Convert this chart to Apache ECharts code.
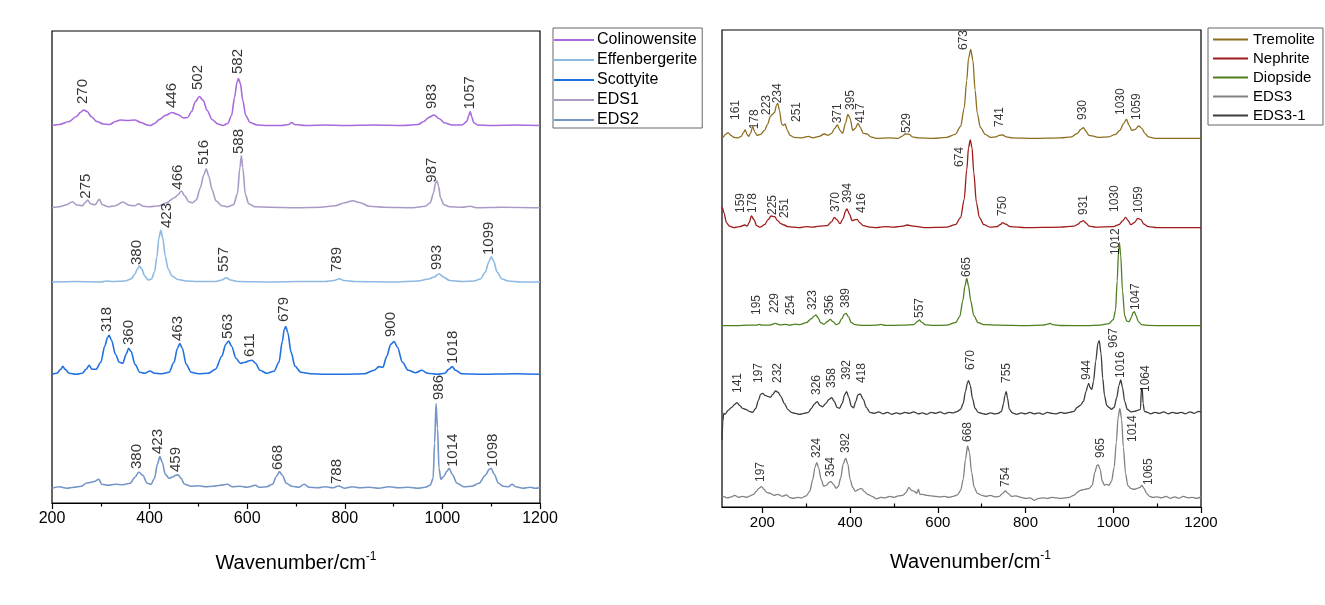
<!DOCTYPE html>
<html><head><meta charset="utf-8">
<script src="https://cdn.jsdelivr.net/npm/echarts@6/dist/echarts.min.js"></script>
<style>html,body{margin:0;padding:0;background:#fff}#c{width:1325px;height:605px}</style>
</head><body><div id="c"></div><script>
// ---------- LEFT PANEL DATA: [wavenumber, intensity above own baseline] ----------
const colinowensite = [[200,0],[215,1],[235,4],[250,9],[258,13],[265,15.5],[272,14],[280,9],[292,4],[305,1.5],[318,1],[330,4],[340,5.5],[355,5],[370,5.5],[382,3],[395,0.5],[402,0],[410,2],[420,6],[432,10],[446,13],[458,11],[470,7.5],[478,8],[486,14],[494,24],[502,29],[510,25],[518,15],[528,6],[540,1.5],[550,0],[560,2],[568,10],[574,28],[579,43],[582,47],[586,42],[591,25],[597,10],[606,3],[620,0.5],[640,0],[670,0],[685,1],[691,3],[697,1],[720,0],[760,0.5],[800,0],[860,0.5],[920,0],[950,1],[962,4],[972,8],[983,10.5],[993,7],[1005,2.5],[1020,0.5],[1040,0.5],[1050,4],[1054,10],[1057,14],[1060,9],[1064,3],[1072,0.5],[1100,0],[1150,0.5],[1200,0]];
const eds1 = [[200,0],[215,1],[230,3],[242,6],[250,3],[262,2],[268,5],[273,7.7],[279,4],[288,3],[297,8.3],[303,3],[315,1],[330,2],[345,5.7],[358,2.5],[370,2],[378,4],[386,1.5],[400,1],[420,2],[435,5],[451,10],[458,13],[465,16.7],[472,12],[480,6],[488,5],[496,8],[504,20],[511,33],[516,39],[521,32],[528,18],[536,7],[548,2],[560,1],[572,3],[580,14],[585,40],[588,52],[591,40],[596,14],[603,4],[615,1],[650,0.5],[700,0],[750,0.5],[780,2],[800,5],[816,7],[832,5],[850,1.5],[880,0.5],[940,0],[965,1.5],[975,5],[982,15],[986,25],[989,26.7],[992,22],[996,10],[1003,3],[1015,1],[1040,0.5],[1057,1.5],[1070,0],[1120,0.5],[1200,0]];
const effenbergerite = [[200,0],[250,0.5],[300,0],[312,1],[325,0.5],[350,1],[362,3],[370,8],[375,13],[379,16],[384,13],[390,6],[397,2],[404,3],[410,10],[415,25],[419,44],[423,51.7],[427,44],[432,26],[438,13],[446,6],[458,2.5],[475,1],[500,0.5],[535,0.5],[548,2],[557,4.3],[566,2],[580,0.5],[650,0],[700,0.5],[760,0.5],[778,1.5],[789,3.3],[798,1.5],[820,0.5],[900,0],[950,1],[972,3],[983,5],[993,8.3],[1002,5],[1015,1.5],[1040,0.5],[1065,1],[1078,3],[1088,10],[1095,20],[1100,25.3],[1105,21],[1112,10],[1122,3],[1135,1],[1160,0],[1200,0]];
const scottyite = [[200,0],[210,1],[218,5],[222,8],[227,5],[235,1],[250,0],[262,1],[270,5],[276,9],[282,5],[290,5],[300,12],[308,28],[314,37],[317,39],[322,34],[330,20],[338,12],[345,11],[352,20],[357,26],[362,23],[370,10],[380,2],[390,1],[401,3.3],[410,1],[425,0.5],[440,2],[450,12],[457,26],[462,30.7],[467,26],[475,10],[485,2],[500,0.5],[520,1],[535,5],[548,18],[556,30],[562,33.3],[568,28],[577,16],[586,11],[596,12],[604,13.5],[610,14],[617,11],[626,4],[640,1],[655,3],[665,12],[672,33],[676,45],[679,47.7],[683,42],[690,22],[698,8],[710,2],[730,0.5],[760,0],[800,0],[840,0.5],[860,4],[870,7.7],[878,7],[886,18],[894,30],[901,32.7],[908,27],[918,12],[930,4],[945,1.5],[958,4],[970,1],[990,0],[1005,1],[1013,5],[1020,7.7],[1027,4],[1040,0.5],[1080,0],[1150,0.5],[1200,0]];
const eds2 = [[200,0],[215,1.5],[230,0],[245,1],[260,2],[270,5],[285,6.5],[296,9],[302,4],[315,3],[330,4],[345,3.5],[360,5],[370,11],[378,16.3],[386,13],[395,5],[403,4],[410,10],[416,24],[421,31.7],[426,26],[432,14],[440,10],[448,11.5],[453,13],[459,13.3],[464,10],[472,4],[485,2],[500,2.5],[515,1.5],[530,2],[545,3],[559,4],[570,1.5],[585,2],[600,1],[617,3],[625,1],[640,1.5],[652,4],[660,12],[666,16.7],[672,13],[680,5],[692,2],[705,1],[717,4],[727,1],[745,0.5],[760,1.5],[775,0.5],[787,2.3],[800,0],[815,1.5],[830,0.5],[850,1],[870,0],[890,1.5],[910,0.5],[930,1],[950,0],[965,1],[975,3],[981,10],[984,45],[987,84.7],[990,60],[993,20],[997,9],[1003,12],[1009,17],[1014,20],[1020,14],[1030,5],[1045,1.5],[1060,2],[1075,5],[1088,13],[1096,19],[1100,20],[1106,14],[1115,5],[1125,2],[1135,1.5],[1143,4],[1150,1.5],[1165,0],[1180,1],[1190,0],[1200,0.5]];

// peak labels: [wavenumber, height above own baseline, text]
const colinowensiteLabels = [[264,21.5,'270'],[445,17.5,'446'],[498,35.5,'502'],[580,51.5,'582'],[979,16.5,'983'],[1057,16,'1057']];
const eds1Labels = [[269,9,'275'],[458,18,'466'],[511,42.7,'516'],[582,53.7,'588'],[979,25,'987']];
const effenbergeriteLabels = [[374,17,'380'],[435,54,'423'],[552,10,'557'],[783,10,'789'],[989,12,'993'],[1096,27,'1099']];
const scottyiteLabels = [[312,42.3,'318'],[357,29.3,'360'],[458,33.3,'463'],[560,35.3,'563'],[605,17.3,'611'],[676,52.3,'679'],[895,37.3,'900'],[1022,10.3,'1018']];
const eds2Labels = [[374,19.3,'380'],[417,34.3,'423'],[454,16.3,'459'],[662,18.3,'668'],[783,4.3,'788'],[993,88.3,'986'],[1022,21.3,'1014'],[1104,21.3,'1098']];

// ---------- RIGHT PANEL DATA ----------
const tremolite = [[108,0.5],[110,1],[116,4],[122,5.7],[128,3],[135,1],[145,0.5],[152,2],[157,6],[161,8.3],[165,4],[169,2],[173,5],[178,11.7],[183,6],[188,3],[196,4],[205,8],[212,14],[218,21.7],[223,24],[228,26],[232,33],[235,35],[239,28],[244,14],[248,13],[252,14.3],[257,8],[263,3],[272,1],[290,0.5],[305,2],[315,0.5],[330,2],[341,4.3],[350,3],[358,5],[365,10],[371,13.3],[377,8],[383,5],[390,16],[395,24],[400,20],[406,8],[412,10],[418,15],[423,11],[430,5],[439,4.3],[447,1.5],[460,0],[490,0.5],[510,0],[518,2],[526,4.3],[535,4],[542,1.5],[555,0.5],[590,0],[620,1],[640,4],[652,12],[660,30],[666,58],[670,80],[675,89],[680,78],[685,48],[690,25],[697,11],[708,4],[720,1],[733,1.5],[740,3],[748,3.3],[756,1.5],[770,0.5],[820,0],[880,0.5],[905,1.5],[918,5],[926,9],[932,10.7],[938,7],[944,3],[952,2.5],[965,1],[990,1.5],[1005,4],[1015,8],[1024,15],[1030,19],[1036,13],[1042,8],[1050,9],[1058,12.3],[1065,10],[1072,5],[1080,1.5],[1095,0],[1150,0],[1200,0]];
const nephrite = [[108,19],[109,20],[113,14],[118,5],[125,1.5],[135,0],[148,1],[160,2.7],[165,1.5],[170,5],[175,11.7],[181,8],[187,2],[195,0.5],[205,3],[213,8],[220,11.7],[228,11],[235,7],[242,4],[250,2.7],[258,1],[270,0.5],[285,0],[300,1],[315,0.5],[330,1.5],[348,2],[358,6],[364,10.3],[370,8],[377,4],[384,9],[390,17],[393,18.7],[398,14],[405,7],[412,8],[416,8.3],[422,5],[430,2],[445,0.5],[460,0],[480,1],[500,0.5],[520,1.5],[530,2.7],[545,1.5],[570,0],[620,0.5],[640,3],[652,10],[660,28],[666,58],[670,80],[674,87.7],[678,80],[682,55],[688,25],[695,10],[705,3],[720,0.5],[735,1],[742,3],[748,5],[755,3.5],[765,1],[800,0],[880,0.5],[910,1.5],[920,3.5],[926,6],[932,7],[938,4.5],[945,1.5],[960,0.5],[1000,1],[1013,3],[1022,7],[1028,10.3],[1034,7],[1040,3],[1048,5],[1056,9.3],[1063,8],[1070,3.5],[1080,1],[1100,0],[1200,0]];
const diopside = [[108,0],[140,0],[170,0.5],[186,0.5],[193,1.3],[200,0.5],[215,0.5],[230,2.3],[240,0.8],[254,1.3],[262,0.5],[275,1.5],[285,1],[300,3],[312,7],[318,9.5],[322,10.7],[327,8],[333,3],[341,1.5],[348,4],[355,6.3],[361,4],[368,1],[374,2],[381,7],[387,11.5],[391,12.3],[396,9],[403,3],[412,1],[430,0.3],[460,0.5],[470,1.3],[480,0.3],[520,0.5],[545,1],[553,4],[558,5.7],[563,3.5],[572,0.8],[590,0.3],[620,0.5],[640,3],[650,9],[657,25],[662,40],[666,47.3],[670,40],[675,25],[682,10],[692,3],[705,1],[740,0.5],[800,0],[840,0.5],[850,1.5],[856,2.3],[862,1],[880,0.2],[940,0],[970,0.5],[990,2],[1000,6],[1005,15],[1009,45],[1012,75],[1014,83],[1017,70],[1021,35],[1026,10],[1031,4.5],[1036,4],[1041,8],[1045,13],[1048,14],[1052,10],[1057,4],[1065,1],[1080,0.3],[1120,0],[1200,0]];
const eds3 = [[108,0.5],[110,1],[120,-0.5],[130,0.5],[137,2],[145,0],[155,1],[165,0],[172,1.5],[180,3],[186,6],[192,9],[198,10.7],[204,8],[210,5],[218,4],[226,2],[235,3],[245,1],[255,2.5],[262,0],[270,-1],[280,0],[290,-0.5],[300,1.5],[308,6],[315,18],[320,30],[324,34.7],[328,30],[334,18],[340,11],[346,12],[352,15],[357,15.7],[362,13],[368,9],[373,11],[379,20],[384,33],[390,39],[395,33],[400,18],[406,10],[412,6],[420,8],[426,9],[432,6],[440,3],[450,1],[460,-1.5],[470,0],[480,-0.5],[490,1],[500,0],[510,1.5],[520,2],[528,5],[534,10],[540,7],[546,6],[552,4],[556,8],[559,3],[565,3],[575,2],[585,1.5],[595,1],[605,0.5],[615,1],[625,0],[635,1],[645,2.5],[652,7],[658,18],[663,38],[668,51.3],[672,45],[677,25],[683,10],[690,4],[700,2],[710,1],[720,2],[730,0.5],[740,1],[748,4],[754,6.3],[760,4],[768,1],[778,1.5],[790,0],[800,-1],[810,-0.5],[820,-3],[830,-1],[840,-0.5],[850,-1],[860,0],[870,-0.5],[880,-1],[890,-0.5],[900,0],[910,2],[918,5],[925,7],[935,8],[945,9],[952,12],[958,25],[963,32],[966,32.3],[970,28],[975,16],[980,12],[985,13],[990,12],[996,16],[1002,30],[1007,55],[1011,80],[1015,89],[1019,78],[1023,50],[1028,24],[1033,12],[1040,9],[1048,8],[1055,9],[1061,10],[1065,12],[1070,9],[1076,4],[1083,1],[1090,0],[1100,0.5],[1110,-0.5],[1120,1],[1130,-1],[1140,0.5],[1150,-1],[1160,1],[1170,-0.5],[1180,0],[1190,-1],[1200,0.5]];
const eds3_1 = [[108,-27],[110,-8],[112,0],[115,-1],[122,3],[130,6],[137,9],[142,10.7],[148,8],[155,5],[162,4],[170,2],[178,1],[185,5],[191,13],[196,19],[201,20],[206,18],[212,17],[218,16],[224,19],[230,22.3],[236,21],[242,17],[250,10],[258,4],[266,1],[275,0],[285,-1],[295,0],[305,1],[312,5],[318,9],[325,11.7],[331,8],[337,6.5],[345,10],[352,14],[358,15.7],[364,12],[370,6],[376,5],[382,10],[388,19],[392,21.7],[397,16],[403,7],[408,5.5],[413,12],[418,18.5],[423,19.3],[430,14],[437,6],[445,1],[455,0],[465,1.5],[475,-0.5],[485,1],[495,-1],[505,0.5],[515,-0.5],[525,1],[535,0],[545,1.5],[555,-0.5],[565,0.5],[575,-1],[585,1],[595,0],[605,1.5],[615,-0.5],[625,1],[635,0.5],[645,2],[652,4],[658,10],[663,22],[668,31],[670,32.7],[674,28],[679,15],[685,5],[692,1],[700,0],[710,-1],[720,0.5],[730,-0.5],[738,0],[745,2],[750,10],[753,18],[756,21.7],[759,15],[763,4],[770,0.5],[780,-1],[790,0.5],[800,-0.5],[810,1],[820,-0.5],[830,0.5],[840,-1],[850,1],[860,0],[870,-0.5],[880,1],[890,0],[900,1],[910,2],[918,6],[925,8],[932,12],[938,22],[942,28],[944,30],[947,26],[951,24],[955,32],[960,52],[965,70],[968,72.7],[972,60],[976,35],[980,18],[985,8],[990,6],[996,4],[1002,6],[1008,16],[1013,28],[1017,33.3],[1021,26],[1026,12],[1032,4],[1040,1.5],[1048,2],[1056,3],[1062,4],[1064,24],[1066,25],[1068,10],[1071,2],[1078,1],[1085,-0.5],[1095,1],[1105,0],[1115,1.5],[1125,-0.5],[1135,1],[1145,0],[1155,1],[1165,-0.5],[1175,1.5],[1185,0],[1195,2],[1200,1]];

const tremoliteLabels = [[139,18.3,'161'],[182,9,'178'],[211,23.3,'223'],[234,35,'234'],[278,16.3,'251'],[372,15,'371'],[401,28.3,'395'],[425,15.3,'417'],[530,5.3,'529'],[659,88.3,'673'],[742,11.3,'741'],[931,18.3,'930'],[1018,23.3,'1030'],[1054,18.3,'1059']];
const nephriteLabels = [[150,14.7,'159'],[179,14.7,'178'],[223,12.7,'225'],[250,9.7,'251'],[368,15.7,'370'],[395,24.7,'394'],[426,14.7,'416'],[651,60.7,'674'],[748,11.7,'750'],[932,12.7,'931'],[1004,15.7,'1030'],[1057,14.7,'1059']];
const diopsideLabels = [[187,10.7,'195'],[228,12.7,'229'],[264,10.7,'254'],[315,15.7,'323'],[354,10.7,'356'],[389,17.7,'389'],[558,7.7,'557'],[665,48.7,'665'],[1005,70.7,'1012'],[1052,15.7,'1047']];
const eds3Labels = [[196,15.3,'197'],[325,39.3,'324'],[355,20.3,'354'],[391,44.3,'392'],[668,55.3,'668'],[755,10.3,'754'],[972,39.3,'965'],[1045,55.3,'1014'],[1080,12.3,'1065']];
const eds3_1Labels = [[143,20.3,'141'],[192,30.3,'197'],[234,30.3,'232'],[325,18.3,'326'],[357,25.3,'358'],[393,33.3,'392'],[427,30.3,'418'],[674,43.3,'670'],[756,30.3,'755'],[940,33.3,'944'],[1000,65.3,'967'],[1018,35.3,'1016'],[1074,21.3,'1064']];

const leftTicks = [200,400,600,800,1000,1200];
const rightMajorTicks = [200,400,600,800,1000,1200];
const rightMinorTicks = [300,500,700,900,1100];

// ---------- layout / style ----------
const FONT = 'Liberation Sans, Arial, sans-serif';
const leftSpec = [
  {name:'Colinowensite', data:colinowensite, labels:colinowensiteLabels, base:377.5, color:'#A86ADC'},
  {name:'EDS1', data:eds1, labels:eds1Labels, base:295.3, color:'#A99BC6'},
  {name:'Effenbergerite', data:effenbergerite, labels:effenbergeriteLabels, base:221, color:'#8DB9E2'},
  {name:'Scottyite', data:scottyite, labels:scottyiteLabels, base:128.7, color:'#2170E0'},
  {name:'EDS2', data:eds2, labels:eds2Labels, base:14.7, color:'#7595C6'}
];
const rightSpec = [
  {name:'Tremolite', data:tremolite, labels:tremoliteLabels, base:368.7, color:'#8C6E1E'},
  {name:'Nephrite', data:nephrite, labels:nephriteLabels, base:279.3, color:'#9E1A1A'},
  {name:'Diopside', data:diopside, labels:diopsideLabels, base:181.3, color:'#4F7F1F'},
  {name:'EDS3-1', data:eds3_1, labels:eds3_1Labels, base:93.7, color:'#3C3C3C'},
  {name:'EDS3', data:eds3, labels:eds3Labels, base:9.7, color:'#808080'}
];

const series = [];
function addPanel(spec, axis, lw, fs){
  spec.forEach(s=>{
    series.push({name:s.name, type:'line', xAxisIndex:axis.x, yAxisIndex:axis.y,
      data:s.data.map(p=>[p[0], p[1]+s.base]), symbol:'none', smooth:0.3, smoothMonotone:'x',
      lineStyle:{color:s.color, width:lw}, itemStyle:{color:s.color}, z:2, silent:true});
    series.push({type:'scatter', xAxisIndex:axis.x, yAxisIndex:axis.y, silent:true, z:5,
      data:s.labels.map(l=>[l[0], l[1]+s.base, l[2]]), symbolSize:0.01,
      itemStyle:{color:'transparent'},
      label:{show:true, position:'inside', rotate:90, align:'left', verticalAlign:'middle',
        formatter:p=>p.value[2], color:'#000', fontSize:fs, fontFamily:FONT}});
  });
}
addPanel(leftSpec, {x:0,y:0}, 1.6, 15);
addPanel(rightSpec, {x:1,y:1}, 1.3, 12);

const nameRich = {a:{fontSize:20, color:'#000', fontFamily:FONT, lineHeight:24}, b:{fontSize:12, color:'#000', fontFamily:FONT, verticalAlign:'top', lineHeight:24}};
const plainNum = v => String(v);
const axisBase = {type:'value', splitLine:{show:false}, minorSplitLine:{show:false},
  axisLine:{show:true, onZero:false, lineStyle:{color:'#000', width:1.2}},
  nameLocation:'middle', name:'{a|Wavenumber/cm}{b|-1}', nameTextStyle:{rich:nameRich}};

const option = {
  animation:false,
  backgroundColor:'#fff',
  grid:[
    {left:52, top:31, width:488, height:472, show:true, borderColor:'#000', borderWidth:1.2},
    {left:722, top:30, width:479, height:477, show:true, borderColor:'#000', borderWidth:1.2}
  ],
  xAxis:[
    Object.assign({}, axisBase, {gridIndex:0, min:200, max:1200, interval:200,
      axisTick:{show:true, length:6, lineStyle:{color:'#000', width:1.2}},
      minorTick:{show:true, splitNumber:2, length:3.5, lineStyle:{color:'#000', width:1.2}},
      axisLabel:{color:'#000', fontSize:16, fontFamily:FONT, margin:8, customValues:leftTicks, formatter:plainNum},
      nameGap:48}),
    Object.assign({}, axisBase, {gridIndex:1, min:108, max:1200,
      axisTick:{show:true, length:6, customValues:rightMajorTicks, lineStyle:{color:'#000', width:1.2}},
      axisLabel:{color:'#000', fontSize:15, fontFamily:FONT, margin:8, customValues:rightMajorTicks, formatter:plainNum},
      nameGap:43, nameTextStyle:{rich:nameRich, padding:[0,0,0,18]}}),
    {type:'value', gridIndex:1, min:108, max:1200, axisLine:{show:false}, splitLine:{show:false},
      axisTick:{show:true, length:3.5, customValues:rightMinorTicks, lineStyle:{color:'#000', width:1.2}},
      axisLabel:{show:false}}
  ],
  yAxis:[
    {type:'value', gridIndex:0, min:0, max:472, show:false},
    {type:'value', gridIndex:1, min:0, max:477, show:false}
  ],
  legend:[
    {orient:'vertical', left:553, top:28, data:['Colinowensite','Effenbergerite','Scottyite','EDS1','EDS2'],
      icon:'rect', itemWidth:40, itemHeight:2, itemGap:4, padding:[4,5,0,1], borderColor:'#666', borderWidth:1,
      textStyle:{fontSize:16, lineHeight:15, color:'#000', fontFamily:FONT, padding:[0,0,0,-2]}, selectedMode:false},
    {orient:'vertical', left:1208, top:28, data:['Tremolite','Nephrite','Diopside','EDS3','EDS3-1'],
      icon:'rect', itemWidth:35, itemHeight:2, itemGap:4, padding:[4,8,2,5], borderColor:'#666', borderWidth:1,
      textStyle:{fontSize:15, lineHeight:15, color:'#000', fontFamily:FONT}, selectedMode:false}
  ],
  series:series
};
const chart = echarts.init(document.getElementById('c'), null, {renderer:'canvas'});
chart.setOption(option);
</script></body></html>
